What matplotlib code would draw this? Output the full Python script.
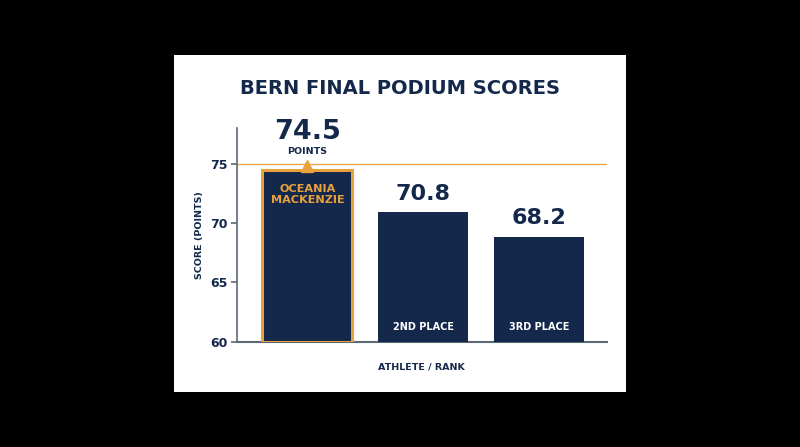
import matplotlib.pyplot as plt
from matplotlib.patches import Rectangle

# data
athletes = ["OCEANIA\nMACKENZIE", "2ND PLACE", "3RD PLACE"]
score_labels = ["74.5", "70.8", "68.2"]
bar_tops = [74.5, 70.9, 68.85]   # heights as drawn in the picture
y_ticks = [60, 65, 70, 75]
ref_line = 75

NAVY = "#14284b"
ORANGE = "#e9a23b"
GREY = "#5b6877"

plt.rcParams["font.family"] = ["DejaVu Sans"]

fig = plt.figure(figsize=(8, 4.47), dpi=100)
fig.patch.set_facecolor("black")

# white card
fig.patches.append(Rectangle((173.5 / 800, 1 - 392 / 447), (626 - 173.5) / 800, (392 - 54.7) / 447,
                             transform=fig.transFigure, facecolor="white", edgecolor="none", zorder=-5))

ax = fig.add_axes([237 / 800, 1 - 341.7 / 447, (606.7 - 237) / 800, (341.7 - 128) / 447])
ax.set_facecolor("none")
ax.set_zorder(2)

x = range(len(athletes))
bars = ax.bar(x, [t - 60 for t in bar_tops], bottom=60, width=0.776, color=NAVY, zorder=3)
bars[0].set_edgecolor(ORANGE)
bars[0].set_linewidth(2.2)

ax.axhline(ref_line, color=ORANGE, lw=0.9, zorder=2)

ax.set_xlim(-0.606, 2.58)
ax.set_ylim(60, 78)
ax.set_yticks(y_ticks)
ax.set_xticks([])

for s in ["top", "right"]:
    ax.spines[s].set_visible(False)
ax.spines["left"].set_color(GREY)
ax.spines["bottom"].set_color(GREY)
ax.spines["left"].set_linewidth(1.2)
ax.spines["bottom"].set_linewidth(1.5)
ax.tick_params(axis="y", colors=GREY, length=4, width=1.2, pad=3)
for lbl in ax.get_yticklabels():
    lbl.set_color(NAVY)
    lbl.set_fontweight("bold")
    lbl.set_fontsize(9)

ax.set_ylabel("SCORE (POINTS)", fontsize=6.8, fontweight="bold", color=NAVY, labelpad=4)
ax.set_xlabel("ATHLETE / RANK", fontsize=6.8, fontweight="bold", color=NAVY, labelpad=15)

# winner callout
ax.text(0, 77.69, score_labels[0], ha="center", va="center", fontsize=19.5, fontweight="bold", color=NAVY)
ax.text(0, 75.98, "POINTS", ha="center", va="center", fontsize=6.8, fontweight="bold", color=NAVY)
ax.plot([0], [bar_tops[0] + 0.33], marker="^", markersize=8, color=ORANGE, zorder=4, clip_on=False)
ax.text(0, 72.37, athletes[0], ha="center", va="center", fontsize=8.1, fontweight="bold",
        color=ORANGE, linespacing=1.1, zorder=5)

# other bars
for i in (1, 2):
    ax.text(i, bar_tops[i] + 1.55, score_labels[i], ha="center", va="center", fontsize=16,
            fontweight="bold", color=NAVY)
    ax.text(i, 61.26, athletes[i], ha="center", va="center", fontsize=7.0, fontweight="bold",
            color="white", zorder=5)

fig.text(400 / 800, 1 - 88 / 447, "BERN FINAL PODIUM SCORES", ha="center", va="center",
         fontsize=14, fontweight="bold", color=NAVY)

fig.savefig("out.png", dpi=100, facecolor=fig.get_facecolor())
